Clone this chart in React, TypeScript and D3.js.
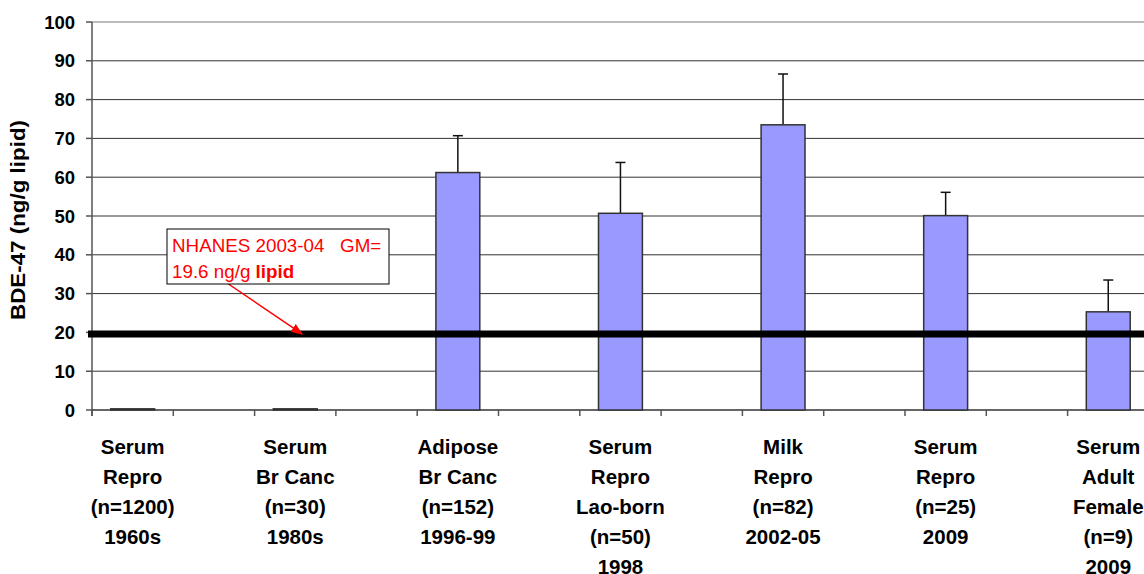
import * as d3 from "d3";
import { useEffect, useRef } from "react";

// groups shown on the chart (every other category slot is empty)
const groupLabels = [
  ["Serum", "Repro", "(n=1200)", "1960s"],
  ["Serum", "Br Canc", "(n=30)", "1980s"],
  ["Adipose", "Br Canc", "(n=152)", "1996-99"],
  ["Serum", "Repro", "Lao-born", "(n=50)", "1998"],
  ["Milk", "Repro", "(n=82)", "2002-05"],
  ["Serum", "Repro", "(n=25)", "2009"],
  ["Serum", "Adult", "Female", "(n=9)", "2009"],
];
const groupValues = [0.3, 0.3, 61.2, 50.7, 73.5, 50.1, 25.3];
const groupErrors = [0, 0, 9.5, 13.1, 13.1, 6.0, 8.2];
const yTicks = [0, 10, 20, 30, 40, 50, 60, 70, 80, 90, 100];
const slotCount = 14;
const nhanesGM = 19.6;

const App = () => {
  const ref = useRef();

  useEffect(() => {
    d3.select(ref.current).selectAll("*").remove();

    const width = 1144,
      height = 574;
    const left = 92,
      top = 22,
      bottom = 410;
    const font = "'Liberation Sans', Arial, sans-serif";

    const svg = d3.select(ref.current)
      .attr("width", width)
      .attr("height", height)
      .style("font-family", font);

    var x = d3.scaleBand()
      .domain(d3.range(slotCount))
      .range([left, left + slotCount * 81.3])
      .padding(0);

    var y = d3.scaleLinear()
      .domain([0, 100])
      .range([bottom, top]);

    // gridlines
    svg.append("g")
      .selectAll("line")
      .data(yTicks.filter(d => d > 0))
      .join("line")
      .attr("x1", left)
      .attr("x2", width)
      .attr("y1", d => y(d))
      .attr("y2", d => y(d))
      .attr("stroke", d => d === 100 ? "#777" : "#333")
      .attr("stroke-width", 1);

    // y axis
    svg.append("line")
      .attr("x1", left).attr("x2", left)
      .attr("y1", y(100)).attr("y2", bottom + 6)
      .attr("stroke", "#555").attr("stroke-width", 1.5);
    svg.append("g")
      .selectAll("line")
      .data(yTicks)
      .join("line")
      .attr("x1", left - 6).attr("x2", left)
      .attr("y1", d => y(d)).attr("y2", d => y(d))
      .attr("stroke", "#555").attr("stroke-width", 1.5);
    svg.append("g")
      .selectAll("text")
      .data(yTicks)
      .join("text")
      .attr("x", left - 17)
      .attr("y", d => y(d))
      .attr("dy", "0.36em")
      .attr("text-anchor", "end")
      .attr("font-size", 18.5)
      .attr("font-weight", "bold")
      .text(d => d);

    svg.append("text")
      .attr("transform", `translate(25,${(top + bottom) / 2 + 4}) rotate(-90)`)
      .attr("text-anchor", "middle")
      .attr("font-size", 21)
      .attr("font-weight", "bold")
      .attr("textLength", 200)
      .attr("lengthAdjust", "spacingAndGlyphs")
      .text("BDE-47 (ng/g lipid)");

    // x axis
    svg.append("line")
      .attr("x1", left).attr("x2", width)
      .attr("y1", bottom).attr("y2", bottom)
      .attr("stroke", "#333").attr("stroke-width", 1.5);
    svg.append("g")
      .selectAll("line")
      .data(d3.range(slotCount + 1))
      .join("line")
      .attr("x1", d => left + d * x.step())
      .attr("x2", d => left + d * x.step())
      .attr("y1", bottom).attr("y2", bottom + 6)
      .attr("stroke", "#555").attr("stroke-width", 1.5);

    const barW = x.bandwidth() * 0.54;
    const cx = i => x(i * 2) + x.bandwidth() / 2;

    // error bars (upper only)
    groupValues.forEach((v, i) => {
      if (!groupErrors[i]) return;
      svg.append("line")
        .attr("x1", cx(i)).attr("x2", cx(i))
        .attr("y1", y(v)).attr("y2", y(v + groupErrors[i]))
        .attr("stroke", "#111").attr("stroke-width", 1.5);
      svg.append("line")
        .attr("x1", cx(i) - 5).attr("x2", cx(i) + 5)
        .attr("y1", y(v + groupErrors[i])).attr("y2", y(v + groupErrors[i]))
        .attr("stroke", "#111").attr("stroke-width", 1.5);
    });

    // bars
    svg.append("g")
      .selectAll("rect")
      .data(groupValues)
      .join("rect")
      .attr("x", (d, i) => cx(i) - barW / 2)
      .attr("y", d => y(d))
      .attr("width", barW)
      .attr("height", d => bottom - y(d))
      .attr("fill", "#9999FF")
      .attr("stroke", "#333")
      .attr("stroke-width", 1.5);

    // NHANES reference line
    svg.append("line")
      .attr("x1", left - 4).attr("x2", width)
      .attr("y1", y(nhanesGM)).attr("y2", y(nhanesGM))
      .attr("stroke", "#000").attr("stroke-width", 7);

    // category labels
    groupLabels.forEach((lines, i) => {
      const t = svg.append("text")
        .attr("text-anchor", "middle")
        .attr("font-size", 20.5)
        .attr("font-weight", "bold");
      lines.forEach((s, j) => {
        t.append("tspan")
          .attr("x", cx(i))
          .attr("y", 454 + j * 30)
          .text(s);
      });
    });

    // annotation
    svg.append("defs").append("marker")
      .attr("id", "arrow")
      .attr("viewBox", "0 0 10 10")
      .attr("refX", 9).attr("refY", 5)
      .attr("markerWidth", 8).attr("markerHeight", 8)
      .attr("orient", "auto")
      .append("path")
      .attr("d", "M0,1 L10,5 L0,9 Z")
      .attr("fill", "#ff0000");

    svg.append("line")
      .attr("x1", 227).attr("y1", 283)
      .attr("x2", 302).attr("y2", y(nhanesGM))
      .attr("stroke", "#ff0000").attr("stroke-width", 1.5)
      .attr("marker-end", "url(#arrow)");

    svg.append("rect")
      .attr("x", 167).attr("y", 229)
      .attr("width", 222).attr("height", 55)
      .attr("fill", "#fff")
      .attr("stroke", "#000").attr("stroke-width", 1);

    svg.append("text")
      .attr("x", 172).attr("y", 252)
      .attr("font-size", 18.8)
      .attr("fill", "#ff0000")
      .attr("xml:space", "preserve")
      .text("NHANES 2003-04   GM=");
    const l2 = svg.append("text")
      .attr("x", 172).attr("y", 277.5)
      .attr("font-size", 18.8)
      .attr("fill", "#ff0000");
    l2.append("tspan").text("19.6 ng/g ");
    l2.append("tspan").attr("font-weight", "bold").text("lipid");
  }, []);

  return <svg ref={ref} style={{ position: "absolute", left: 0, top: 0, background: "#fff" }} />;
};

export default App;
